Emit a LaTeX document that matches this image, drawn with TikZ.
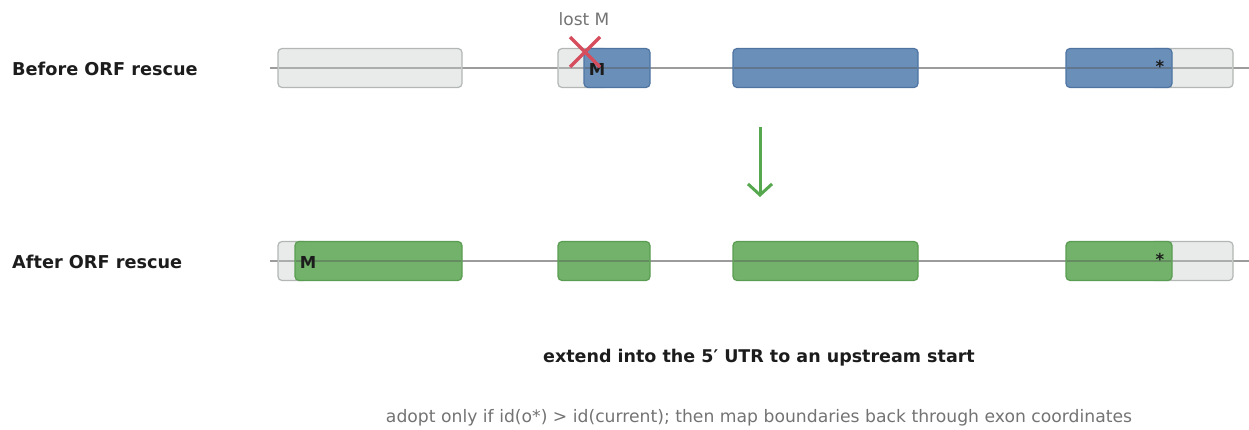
\documentclass[tikz,border=0pt]{standalone}
\usepackage{fontspec}
\setmainfont{DejaVu Sans}
\usetikzlibrary{arrows.meta}
\definecolor{utrfill}{HTML}{E9EBEA}
\definecolor{utrdraw}{HTML}{B2B7B4}
\definecolor{cdsblue}{HTML}{6A8FB8}
\definecolor{cdsbluedraw}{HTML}{4E74A2}
\definecolor{cdsgreen}{HTML}{72B26A}
\definecolor{cdsgreendraw}{HTML}{5A9D52}
\definecolor{backbone}{HTML}{9C9C9C}
\definecolor{crossred}{HTML}{D64D5E}
\definecolor{darktext}{HTML}{1C1C1C}
\definecolor{softtext}{HTML}{737373}
\definecolor{arrowgreen}{HTML}{55A84D}
\tikzset{
  exon/.style={rectangle, rounded corners=4pt, inner sep=0pt, outer sep=0pt,
    minimum height=39pt, anchor=west, line width=1.2pt},
  utr/.style={exon, fill=utrfill, draw=utrdraw},
  bluecds/.style={exon, fill=cdsblue, draw=cdsbluedraw},
  greencds/.style={exon, fill=cdsgreen, draw=cdsgreendraw},
  spine/.style={draw=backbone, line width=1.2pt},
  through/.style={draw=black!68, opacity=0.4, line width=1.2pt, shorten >=0.6pt, shorten <=0.6pt},
  rowlabel/.style={anchor=west, font=\bfseries\fontsize{17.7}{20}\selectfont, text=darktext, inner sep=0pt},
  codon/.style={font=\bfseries\fontsize{16.5}{18}\selectfont, text=darktext, inner sep=0pt},
}
\begin{document}
\begin{tikzpicture}[x=1pt,y=-1pt]
\useasboundingbox (0,0) rectangle (1249,430);

% transcript backbones
\coordinate (s1a) at (270,68);  \coordinate (s1b) at (1249,68);
\coordinate (s2a) at (270,261); \coordinate (s2b) at (1249,261);
\draw[spine] (s1a) -- (s1b);
\draw[spine] (s2a) -- (s2b);

% row labels
\node[rowlabel] (lab1) at (12,69) {Before ORF rescue};
\node[rowlabel] (lab2) at (12,262) {After ORF rescue};

% original model (backbone shows through each exon)
\node[utr, minimum width=184pt] (u11) at (278,68) {};
\draw[through] (u11.west) -- (u11.east);
\node[utr, minimum width=50pt] (u12) at (558,68) {};
\draw[through] (u12.west) -- (u12.east);
\node[bluecds, minimum width=66pt] (c12) at (584,68) {};
\draw[through] (c12.west) -- (c12.east);
\node[bluecds, minimum width=185pt] (c13) at (733,68) {};
\draw[through] (c13.west) -- (c13.east);
\node[utr, minimum width=83pt] (u14) at (1150,68) {};
\draw[through] (u14.west) -- (u14.east);
\node[bluecds, minimum width=106pt] (c14) at (1066,68) {};
\draw[through] (c14.west) -- (c14.east);

% rescued model
\node[utr, minimum width=30pt] (u21) at (278,261) {};
\draw[through] (u21.west) -- (u21.east);
\node[greencds, minimum width=167pt] (c21) at (295,261) {};
\draw[through] (c21.west) -- (c21.east);
\node[greencds, minimum width=92pt] (c22) at (558,261) {};
\draw[through] (c22.west) -- (c22.east);
\node[greencds, minimum width=185pt] (c23) at (733,261) {};
\draw[through] (c23.west) -- (c23.east);
\node[utr, minimum width=83pt] (u24) at (1150,261) {};
\draw[through] (u24.west) -- (u24.east);
\node[greencds, minimum width=106pt] (c24) at (1066,261) {};
\draw[through] (c24.west) -- (c24.east);

% start and stop codons
\node[codon] (m1) at (597,69) {M};
\node[codon] (st1) at (1160,66) {*};
\node[codon] (m2) at (308,262) {M};
\node[codon] (st2) at (1160,259) {*};

% lost start codon
\coordinate (xa) at (570,37); \coordinate (xb) at (600,67);
\coordinate (xc) at (600,37); \coordinate (xd) at (570,67);
\draw[crossred, line width=3.5pt] (xa) -- (xb) (xc) -- (xd);
\node[font=\fontsize{17}{19}\selectfont, text=softtext] (lost) at (584,19) {lost M};

% rescue step
\coordinate (ar1) at (760,127); \coordinate (ar2) at (760,197);
\draw[arrowgreen, line width=3pt, -{Straight Barb[length=11pt,width=24pt,line width=3pt]}] (ar1) -- (ar2);

% captions
\node[font=\bfseries\fontsize{17.5}{20}\selectfont, text=darktext] (cap1) at (759,358) {extend into the 5′ UTR to an upstream start};
\node[font=\fontsize{17.2}{19}\selectfont, text=softtext] (cap2) at (759,418) {adopt only if id(o*) > id(current); then map boundaries back through exon coordinates};
\end{tikzpicture}
\end{document}
